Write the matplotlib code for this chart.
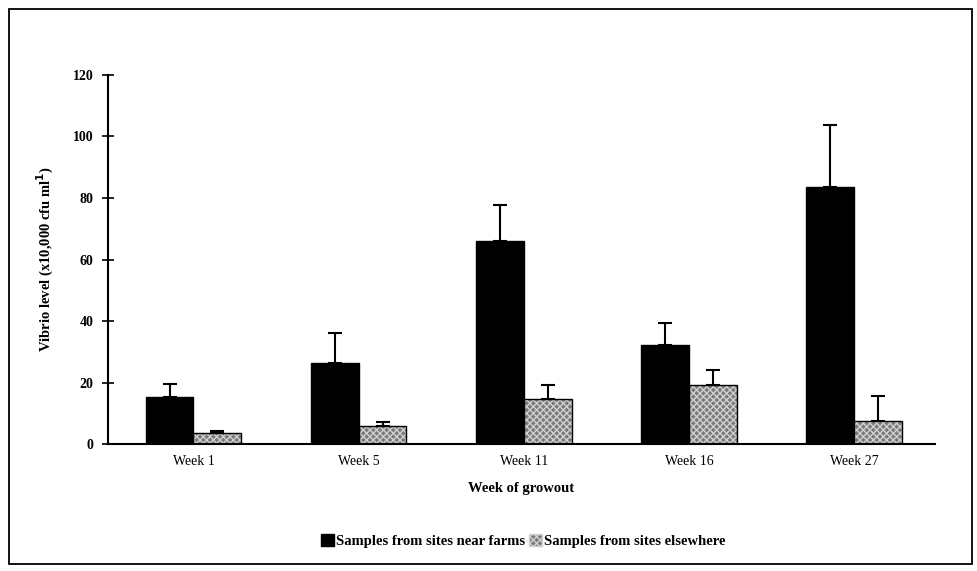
import numpy as np
import matplotlib
matplotlib.use("Agg")
import matplotlib.pyplot as plt
from matplotlib.patches import Rectangle, Patch

plt.rcParams['font.family'] = ['Liberation Serif', 'DejaVu Serif']

weeks = ['Week 1', 'Week 5', 'Week 11', 'Week 16', 'Week 27']
near_farms = [15.3, 26.3, 66.0, 32.2, 83.6]
near_farms_err = [4.2, 9.8, 11.7, 7.1, 20.1]
elsewhere = [3.6, 5.9, 14.6, 19.2, 7.5]
elsewhere_err = [0.6, 1.3, 4.6, 4.8, 8.1]

fig = plt.figure(figsize=(9.78, 5.71), dpi=100)
ax = fig.add_axes([0.110, 0.222, 0.846, 0.647])

x = np.arange(len(weeks))
w = 0.29
zeros = np.zeros(len(weeks))
gray = '#7a7a7a'
dots = '#cfcfcf'

ax.bar(x - w/2, near_farms, w, color='black', edgecolor='black',
       yerr=[zeros, near_farms_err], capsize=5,
       error_kw=dict(ecolor='black', elinewidth=1.5, capthick=1.5))
ax.bar(x + w/2, elsewhere, w, color=gray, edgecolor=dots,
       hatch='xxxxx', linewidth=0)
ax.bar(x + w/2, elsewhere, w, fill=False, edgecolor='black', linewidth=1.0,
       yerr=[zeros, elsewhere_err], capsize=5,
       error_kw=dict(ecolor='black', elinewidth=1.5, capthick=1.5))

ax.set_xlim(-0.52, len(weeks) - 0.51)
ax.set_ylim(0, 120)
ax.set_yticks(range(0, 121, 20))
ax.set_xticks(x)
ax.set_xticklabels(weeks, fontsize=10)
for lab in ax.get_yticklabels():
    lab.set_fontweight('bold')
    lab.set_fontsize(10)
ax.tick_params(axis='y', direction='inout', length=8, width=1.2, pad=6)
ax.tick_params(axis='x', length=0, pad=8)
ax.spines['top'].set_visible(False)
ax.spines['right'].set_visible(False)
ax.spines['left'].set_linewidth(1.5)
ax.spines['bottom'].set_linewidth(1.5)

ax.set_ylabel('Vibrio level (x10,000 cfu ml$^{\\mathbf{1}}$)', fontsize=10.5,
              fontweight='bold', labelpad=12)
ax.set_xlabel('Week of growout', fontsize=10.5, fontweight='bold', labelpad=10)

handles = [Patch(facecolor='black', edgecolor='black'),
           Patch(facecolor=gray, edgecolor=dots, hatch='xxxxx')]
fig.legend(handles, ['Samples from sites near farms', 'Samples from sites elsewhere'],
           loc='center', bbox_to_anchor=(0.535, 0.052), ncol=2, frameon=False,
           prop={'size': 10.5, 'weight': 'bold'}, handlelength=0.9, handleheight=0.9,
           handletextpad=0.1, columnspacing=0.3)

fig.patches.append(Rectangle((0.009, 0.012), 0.985, 0.972, transform=fig.transFigure,
                             fill=False, edgecolor='black', linewidth=1.3))

fig.savefig('out.png', dpi=100)
